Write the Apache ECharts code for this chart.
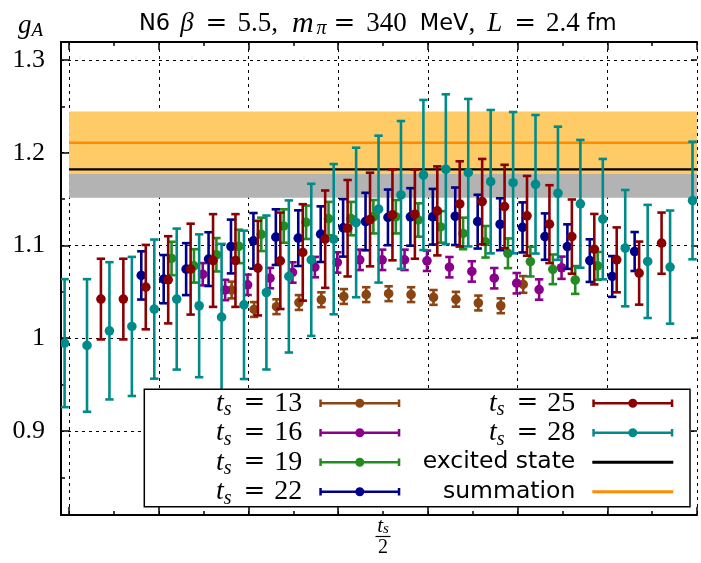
<!DOCTYPE html>
<html><head><meta charset="utf-8">
<script src="https://cdn.jsdelivr.net/npm/echarts@6/dist/echarts.min.js"></script>
<style>html,body{margin:0;padding:0;background:#fff}#c{width:701px;height:563px}</style>
</head><body><div id="c"></div>
<script>
// ---- data ----
const tsValues = [13, 16, 19, 22, 25, 28];
const ts13 = [1.052, 1.031, 1.034, 1.0385, 1.0415, 1.045, 1.047, 1.048, 1.047, 1.044, 1.042, 1.038, 1.035, 1.058];
const err13 = [0.009, 0.008, 0.008, 0.008, 0.008, 0.008, 0.008, 0.008, 0.008, 0.008, 0.008, 0.008, 0.008, 0.009];
const ts16 = [1.069, 1.052, 1.0576, 1.0648, 1.0709, 1.0767, 1.0817, 1.0845, 1.0845, 1.0845, 1.0835, 1.0766, 1.072, 1.0647, 1.0593, 1.0525, 1.076];
const err16 = [0.012, 0.011, 0.011, 0.011, 0.011, 0.011, 0.011, 0.011, 0.011, 0.011, 0.011, 0.011, 0.011, 0.011, 0.011, 0.011, 0.012];
const ts19 = [1.086, 1.078, 1.090, 1.099, 1.112, 1.121, 1.125, 1.129, 1.129, 1.131, 1.131, 1.1275, 1.120, 1.113, 1.104, 1.0916, 1.0826, 1.0743, 1.0628, 1.078];
const err19 = [0.018, 0.018, 0.018, 0.018, 0.018, 0.018, 0.018, 0.018, 0.018, 0.018, 0.018, 0.018, 0.017, 0.017, 0.017, 0.016, 0.016, 0.016, 0.015, 0.015];
const ts22 = [1.0677, 1.0637, 1.0745, 1.0853, 1.0989, 1.105, 1.109, 1.1079, 1.1122, 1.119, 1.1258, 1.1303, 1.1308, 1.131, 1.1315, 1.1257, 1.1229, 1.1195, 1.1096, 1.0988, 1.0837, 1.0666, 1.0935];
const err22 = [0.026, 0.026, 0.028, 0.029, 0.029, 0.030, 0.030, 0.030, 0.030, 0.031, 0.031, 0.030, 0.031, 0.030, 0.031, 0.029, 0.028, 0.027, 0.025, 0.024, 0.023, 0.022, 0.021];
const ts25 = [1.0422, 1.0422, 1.0551, 1.063, 1.0745, 1.0838, 1.0838, 1.0756, 1.0835, 1.0925, 1.1068, 1.1186, 1.128, 1.133, 1.1337, 1.1373, 1.1448, 1.1473, 1.142, 1.132, 1.123, 1.1096, 1.096, 1.0845, 1.0702, 1.1025];
const err25 = [0.0435, 0.0435, 0.0455, 0.047, 0.049, 0.050, 0.050, 0.051, 0.052, 0.052, 0.0525, 0.052, 0.0505, 0.049, 0.048, 0.048, 0.046, 0.046, 0.045, 0.043, 0.042, 0.040, 0.038, 0.035, 0.034, 0.033];
const ts28 = [0.9947, 0.9922, 1.008, 1.0127, 1.0314, 1.0422, 1.035, 1.0227, 1.036, 1.0493, 1.0666, 1.0845, 1.1068, 1.1248, 1.1392, 1.1545, 1.176, 1.1822, 1.1785, 1.1688, 1.1677, 1.166, 1.1563, 1.1449, 1.1284, 1.0971, 1.0828, 1.0767, 1.1485];
const err28 = [0.069, 0.0715, 0.074, 0.075, 0.075, 0.076, 0.077, 0.079, 0.080, 0.083, 0.082, 0.082, 0.081, 0.0806, 0.0792, 0.0797, 0.0809, 0.0808, 0.0795, 0.0773, 0.0762, 0.0747, 0.0718, 0.0689, 0.0649, 0.0627, 0.061, 0.061, 0.0634];
const allValues = [ts13, ts16, ts19, ts22, ts25, ts28];
const allErrors = [err13, err16, err19, err22, err25, err28];
// horizontal displacement of each t_s set (to avoid overlap)
const xShift = [-0.05, 0.16, 0.27, 0.42, 0.12, 0];
// fit results: [central value, error]
const excitedState = [1.1821, 0.0306];
const summation = [1.2108, 0.0336];
const bandRange = [-13.8, 14.2];
// axis ticks
const xMajor = [-13.8, -9.8, -5.8, -1.8, 2.2, 6.2, 10.2, 14.2];
const xMinor = [-11.8, -7.8, -3.8, 0.2, 4.2, 8.2, 12.2];
const yMajor = [0.9, 1.0, 1.1, 1.2, 1.3];
const yMinor = [0.85, 0.95, 1.05, 1.15, 1.25];
const xRange = [-14.16, 14.2];
const yRange = [0.8094, 1.3194];

// ---- styles ----
const colors = ['#8b4513', '#8b008b', '#228b22', '#00008b', '#8b0000', '#008b8b'];
const SERIF = 'Liberation Serif';
const SANS = 'DejaVu Sans';

function errRender(color) {
  return function (params, api) {
    const x = api.value(0), y = api.value(1), e = api.value(2);
    const c = api.coord([x, y]);
    const hi = api.coord([x, y + e]);
    const lo = api.coord([x, y - e]);
    const hw = 4.2;
    const st = { stroke: color, lineWidth: 2.6, fill: null };
    return { type: 'group', children: [
      { type: 'line', shape: { x1: c[0], y1: hi[1], x2: c[0], y2: lo[1] }, style: st },
      { type: 'line', shape: { x1: c[0] - hw, y1: hi[1], x2: c[0] + hw, y2: hi[1] }, style: st },
      { type: 'line', shape: { x1: c[0] - hw, y1: lo[1], x2: c[0] + hw, y2: lo[1] }, style: st },
      { type: 'circle', shape: { cx: c[0], cy: c[1], r: 4.8 }, style: { fill: color } }
    ]};
  };
}
function bandRender(fill, line, zBase) {
  return function (params, api) {
    const x0 = api.value(0), x1 = api.value(1), v = api.value(2), e = api.value(3);
    const pHi = api.coord([x0, v + e]), pLo = api.coord([x1, v - e]);
    const c0 = api.coord([x0, v]), c1 = api.coord([x1, v]);
    return { type: 'group', children: [
      { type: 'rect', z2: zBase, shape: { x: pHi[0], y: pHi[1], width: pLo[0] - pHi[0], height: pLo[1] - pHi[1] }, style: { fill: fill } },
      { type: 'line', z2: zBase + 10, shape: { x1: c0[0], y1: c0[1], x2: c1[0], y2: c1[1] }, style: { stroke: line, lineWidth: 2.4 } }
    ]};
  };
}

const series = [];
tsValues.forEach(function (ts, i) {
  const data = allValues[i].map(function (v, t) { return [t - ts / 2 + xShift[i], v, allErrors[i][t]]; });
  series.push({
    name: 'ts' + ts, type: 'custom', z: 2, clip: true,
    itemStyle: { color: colors[i] },
    encode: { x: 0, y: 1 },
    renderItem: errRender(colors[i]),
    data: data
  });
});
series.push({
  name: 'excited', type: 'custom', z: 1, itemStyle: { color: '#000' },
  encode: { x: [0, 1], y: 2 },
  renderItem: bandRender('#b3b3b3', '#000000', 0),
  data: [[bandRange[0], bandRange[1], excitedState[0], excitedState[1]]]
});
series.push({
  name: 'summation', type: 'custom', z: 1, itemStyle: { color: '#ff8c00' },
  encode: { x: [0, 1], y: 2 },
  renderItem: bandRender('#fecb66', '#ff8c00', 1),
  data: [[bandRange[0], bandRange[1], summation[0], summation[1]]]
});

const ebIcon = 'path://M0,0.75h2.5v7.5h-2.5z M78.5,0.75h2.5v7.5h-2.5z M2.5,3.3h76v2.4h-76z M36,4.5a4.5,4.5 0 1,1 9,0a4.5,4.5 0 1,1 -9,0z';
const lineIcon = 'path://M0,0h81v3h-81z';
const legendText = { excited: '{sf|excited state}', summation: '{sf|summation}' };
tsValues.forEach(function (ts) { legendText['ts' + ts] = '{t|t}{s|s}{eq|=}{r|' + ts + '}'; });

const LH = 40;
function legendTextStyle(w) {
  return {
    color: '#000', width: w, lineHeight: LH, padding: [0, 12, 0, 0], fontWeight: 'normal',
    rich: {
      t: { fontFamily: SERIF, fontStyle: 'italic', fontSize: 28, lineHeight: LH, align: 'right', color: '#000' },
      s: { fontFamily: SERIF, fontStyle: 'italic', fontSize: 20, lineHeight: LH, align: 'right', color: '#000', padding: [13, 3, 0, 0] },
      eq: { fontFamily: 'DejaVu Serif', fontSize: 26, lineHeight: LH, align: 'right', color: '#000', padding: [0, 9, 0, 9] },
      r: { fontFamily: SERIF, fontSize: 28, lineHeight: LH, align: 'right', color: '#000' },
      sf: { fontFamily: SANS, fontSize: 23.5, lineHeight: LH, align: 'right', color: '#000' }
    }
  };
}
const legendCommon = {
  orient: 'vertical', align: 'right', itemWidth: 81, itemHeight: 10, itemGap: -10.5,
  selectedMode: false, symbolKeepAspect: true, itemStyle: { borderWidth: 0 },
  formatter: function (name) { return legendText[name]; }
};

const dotted = { color: '#000', width: 1, type: [3, 4] };
const option = {
  animation: false,
  backgroundColor: '#fff',
  title: {
    text: '{sf|N6}{sp| }{mi|β}{eq|=}{rm|5.5,}{sp2| }{mm|m}{sub|π}{eq2|=}{rm|340}{sp3| }{sf|MeV}{rm|,}{sp2| }{mi|L}{eq|=}{rm|2.4}{sp4| }{sf|fm}',
    left: 139, top: 10, padding: 0,
    textStyle: {
      fontWeight: 'normal',
      rich: {
        sf: { fontFamily: SANS, fontSize: 22.5, fontWeight: 'normal', color: '#000', lineHeight: 28 },
        mi: { fontFamily: SERIF, fontStyle: 'italic', fontSize: 27, fontWeight: 'normal', color: '#000', lineHeight: 28, padding: [0, 3, 0, 0] },
        mm: { fontFamily: SERIF, fontStyle: 'italic', fontSize: 30, fontWeight: 'normal', color: '#000', lineHeight: 28, padding: [0, 3, 0, 2] },
        rm: { fontFamily: SERIF, fontSize: 27, fontWeight: 'normal', color: '#000', lineHeight: 28 },
        eq: { fontFamily: 'DejaVu Serif', fontSize: 26, fontWeight: 'normal', color: '#000', lineHeight: 28, padding: [0, 10, 0, 9] },
        eq2: { fontFamily: 'DejaVu Serif', fontSize: 26, fontWeight: 'normal', color: '#000', lineHeight: 28, padding: [0, 11, 0, 5] },
        sub: { fontFamily: SERIF, fontStyle: 'italic', fontSize: 20, fontWeight: 'normal', color: '#000', lineHeight: 28, padding: [10, 2, 0, 0] },
        sp: { width: 10, fontSize: 10, lineHeight: 28 },
        sp2: { width: 12, fontSize: 10, lineHeight: 28 },
        sp3: { width: 13, fontSize: 10, lineHeight: 28 },
        sp4: { width: 7, fontSize: 10, lineHeight: 28 }
      }
    }
  },
  grid: { left: 61, right: 4, top: 42, bottom: 48, containLabel: false, outerBoundsMode: 'none' },
  legend: [
    Object.assign({}, legendCommon, {
      left: 144.3, top: 389.3, padding: [-6, 289.7, -5.1, 2], z: 4,
      borderColor: '#000', borderWidth: 1.5, backgroundColor: '#fff',
      textStyle: legendTextStyle(156),
      data: tsValues.slice(0, 4).map(function (ts) { return { name: 'ts' + ts, icon: ebIcon }; })
    }),
    Object.assign({}, legendCommon, {
      left: 415.3, top: 383.3, padding: 0, z: 5,
      textStyle: legendTextStyle(160),
      data: tsValues.slice(4).map(function (ts) { return { name: 'ts' + ts, icon: ebIcon }; })
        .concat([{ name: 'excited', icon: lineIcon }, { name: 'summation', icon: lineIcon }])
    })
  ],
  xAxis: [
    {
      type: 'value', position: 'bottom', min: xRange[0], max: xRange[1],
      axisLine: { onZero: false, lineStyle: { color: '#000', width: 2 } },
      axisTick: { inside: true, length: 8, customValues: xMajor, lineStyle: { color: '#000', width: 1.5 } },
      axisLabel: { show: false },
      splitLine: { show: true, lineStyle: dotted },
      name: '{n|t}{ns|s}\n{bar| }\n{d|2}', nameLocation: 'middle', nameGap: 3,
      nameTextStyle: {
        padding: [0, 0, 0, 8],
        rich: {
          n: { fontFamily: SERIF, fontStyle: 'italic', fontSize: 21, lineHeight: 16, color: '#000' },
          ns: { fontFamily: SERIF, fontStyle: 'italic', fontSize: 15, lineHeight: 16, color: '#000', padding: [7, 0, 0, 0] },
          bar: { backgroundColor: '#000', width: 15, height: 1.2, lineHeight: 5, fontSize: 1 },
          d: { fontFamily: SERIF, fontSize: 20, lineHeight: 17, color: '#000' }
        }
      }
    },
    {
      type: 'value', position: 'bottom', min: xRange[0], max: xRange[1],
      axisLine: { show: false, onZero: false },
      axisTick: { inside: true, length: 4, customValues: xMinor, lineStyle: { color: '#000', width: 1.5 } },
      axisLabel: { show: false }, splitLine: { show: false }
    },
    {
      type: 'value', position: 'top', min: xRange[0], max: xRange[1],
      axisLine: { onZero: false, lineStyle: { color: '#000', width: 2 } },
      axisTick: { inside: true, length: 8, customValues: xMajor, lineStyle: { color: '#000', width: 1.5 } },
      axisLabel: { show: false }, splitLine: { show: false }
    },
    {
      type: 'value', position: 'top', min: xRange[0], max: xRange[1],
      axisLine: { show: false, onZero: false },
      axisTick: { inside: true, length: 4, customValues: xMinor, lineStyle: { color: '#000', width: 1.5 } },
      axisLabel: { show: false }, splitLine: { show: false }
    }
  ],
  yAxis: [
    {
      type: 'value', position: 'left', min: yRange[0], max: yRange[1],
      axisLine: { onZero: false, lineStyle: { color: '#000', width: 2 } },
      axisTick: { inside: true, length: 9, customValues: yMajor, lineStyle: { color: '#000', width: 1.5 } },
      axisLabel: { customValues: yMajor, margin: 16, color: '#000', fontFamily: SERIF, fontSize: 26 },
      splitLine: { show: true, lineStyle: dotted },
      name: '{g|g}{a|A}', nameLocation: 'end', nameGap: 4,
      nameTextStyle: {
        align: 'right', verticalAlign: 'bottom', padding: [0, 18, 0, 0],
        rich: {
          g: { fontFamily: SERIF, fontStyle: 'italic', fontSize: 27, lineHeight: 24, color: '#000' },
          a: { fontFamily: SERIF, fontStyle: 'italic', fontSize: 19, lineHeight: 24, color: '#000', padding: [10, 0, 0, 0] }
        }
      }
    },
    {
      type: 'value', position: 'left', min: yRange[0], max: yRange[1],
      axisLine: { show: false, onZero: false },
      axisTick: { inside: true, length: 4, customValues: yMinor, lineStyle: { color: '#000', width: 1.5 } },
      axisLabel: { show: false }, splitLine: { show: false }
    },
    {
      type: 'value', position: 'right', min: yRange[0], max: yRange[1],
      axisLine: { show: false, onZero: false },
      axisTick: { inside: true, length: 6, customValues: yMajor, lineStyle: { color: '#000', width: 1.5 } },
      axisLabel: { show: false }, splitLine: { show: false }
    }
  ],
  series: series
};
const chart = echarts.init(document.getElementById('c'), null, { renderer: 'canvas' });
chart.setOption(option);
</script>
</body></html>
